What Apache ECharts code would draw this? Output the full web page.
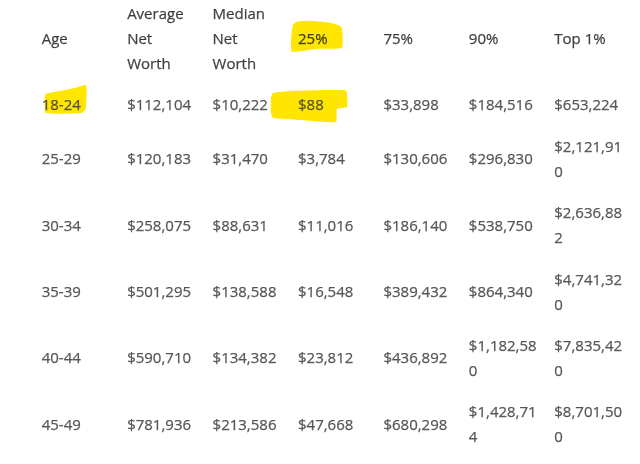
<!DOCTYPE html>
<html>
<head>
<meta charset="utf-8">
<script src="https://cdn.jsdelivr.net/npm/echarts@6/dist/echarts.min.js"></script>
<style>
html, body { margin: 0; padding: 0; background: #fff; }
#chart { width: 640px; height: 464px; }
</style>
</head>
<body>
<div id="chart"></div>
<script>
// net worth by age — drawn as a table of text cells
var columns = ['Age', 'Average Net Worth', 'Median Net Worth', '25%', '75%', '90%', 'Top 1%'];
var ages = ['18-24', '25-29', '30-34', '35-39', '40-44', '45-49'];
var average = [112104, 120183, 258075, 501295, 590710, 781936];
var median = [10222, 31470, 88631, 138588, 134382, 213586];
var p25 = [88, 3784, 11016, 16548, 23812, 47668];
var p75 = [33898, 130606, 186140, 389432, 436892, 680298];
var p90 = [184516, 296830, 538750, 864340, 1182580, 1428714];
var top1 = [653224, 2121910, 2636882, 4741320, 7835420, 8701500];
// [column, row]; row -1 is the header row
var highlighted = [[3, -1], [0, 0], [3, 0]];

// layout
var COL_W = 85.43, LEFT = 41.7, LINE = 25, PAD = 16.4, TOP = -6, WRAP_W = 69;
var FONT_FAMILY = '"Open Sans"', FONT_SIZE = 15;

// marker strokes, offsets from the text anchor (left, middle)
var markerShapes = [
  [[-5, -15], [-1, -18], [12, -19], [32, -17], [42, -14], [44, -11], [44, 8], [20, 9], [-6, 12], [-7, 2], [-6, -10]],
  [[4, -12], [18, -15], [33, -18], [44, -21], [45, -17], [44, 3], [40, 7], [4, 7], [3, -5]],
  [[-25, -13], [-8, -15], [32, -16], [47, -16], [49, -13], [49, 1], [39, 3], [38, 16], [2, 14], [-25, 12], [-27, 7], [-27, -8]]
];

var ctx = document.createElement('canvas').getContext('2d');
ctx.font = FONT_SIZE + 'px ' + FONT_FAMILY;

function wrapChars(s) {
  var lines = [], cur = '';
  for (var i = 0; i < s.length; i++) {
    var ch = s[i];
    if (cur && ctx.measureText(cur + ch).width > WRAP_W) { lines.push(cur); cur = ch; }
    else cur += ch;
  }
  lines.push(cur);
  return lines;
}

function wrapWords(s) {
  var words = s.split(' '), lines = [], cur = '';
  words.forEach(function(w) {
    var t = cur ? cur + ' ' + w : w;
    if (cur && ctx.measureText(t).width > WRAP_W) { lines.push(cur); cur = w; }
    else cur = t;
  });
  lines.push(cur);
  return lines;
}

function money(n) { return '$' + n.toLocaleString('en-US'); }

var rows = ages.map(function(a, i) {
  return [a, money(average[i]), money(median[i]), money(p25[i]), money(p75[i]), money(p90[i]), money(top1[i])];
});

var headerLines = columns.map(wrapWords);
var rowLines = rows.map(function(r) { return r.map(wrapChars); });

function maxLines(arr) { return Math.max.apply(null, arr.map(function(l) { return l.length; })); }

var y = TOP;
var hh = maxLines(headerLines) * LINE + PAD;
var headerCenter = y + hh / 2;
y += hh;
var rowCenter = rowLines.map(function(r) {
  var h = maxLines(r) * LINE + PAD;
  var c = y + h / 2;
  y += h;
  return c;
});

var headerData = headerLines.map(function(l, c) { return [c, headerCenter, l.join('\n')]; });
var cellData = [];
rowLines.forEach(function(r, ri) {
  r.forEach(function(l, c) { cellData.push([c, rowCenter[ri], l.join('\n')]); });
});
var markData = highlighted.map(function(h) {
  return [h[0], h[1] < 0 ? headerCenter : rowCenter[h[1]]];
});

function textLabel(color) {
  return {
    show: true, position: 'right', distance: 0,
    formatter: function(p) { return p.value[2]; },
    color: color, fontFamily: FONT_FAMILY, fontSize: FONT_SIZE, lineHeight: LINE,
    textBorderColor: color, textBorderWidth: 0.25
  };
}

var chart = echarts.init(document.getElementById('chart'));
chart.setOption({
  animation: false,
  backgroundColor: '#ffffff',
  grid: { left: LEFT, right: 640 - LEFT - 7 * COL_W, top: 0, bottom: 0 },
  xAxis: { type: 'value', min: 0, max: 7, show: false },
  yAxis: { type: 'value', inverse: true, min: 0, max: 464, show: false },
  series: [
    {
      type: 'custom', silent: true, z: 1,
      data: markData,
      renderItem: function(params, api) {
        var p = api.coord([api.value(0), api.value(1)]);
        var pts = markerShapes[params.dataIndex].map(function(o) { return [p[0] + o[0], p[1] + o[1]]; });
        return { type: 'polygon', shape: { points: pts, smooth: 0.15 }, style: { fill: '#ffe600' } };
      }
    },
    {
      type: 'scatter', silent: true, z: 2, symbolSize: 0,
      itemStyle: { color: 'transparent' },
      data: headerData, label: textLabel('#161616')
    },
    {
      type: 'scatter', silent: true, z: 2, symbolSize: 0,
      itemStyle: { color: 'transparent' },
      data: cellData, label: textLabel('#333333')
    }
  ]
});
</script>
</body>
</html>
